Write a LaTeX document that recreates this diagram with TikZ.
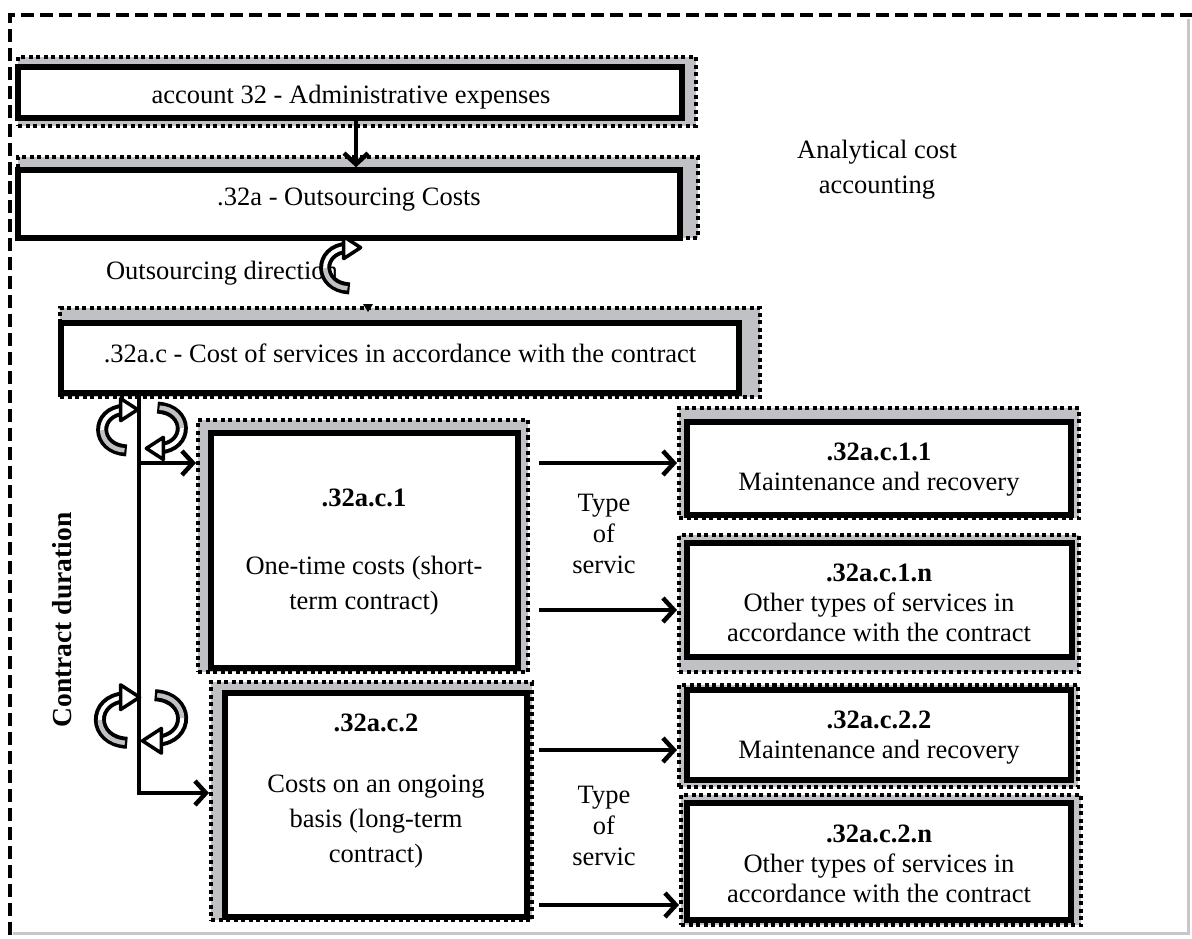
\documentclass[tikz,border=0pt]{standalone}
\usepackage{fontspec}
\setmainfont{Liberation Serif}
\usetikzlibrary{arrows.meta,fit}
\definecolor{shd}{RGB}{192,193,197}
\begin{document}
\begin{tikzpicture}[x=1bp,y=-1bp,
  shbox/.style={draw=black, fill=shd, line width=4bp, dash pattern=on 4bp off 3.5bp, inner sep=0pt},
  mainbox/.style={draw=black, fill=white, line width=5.5bp, inner sep=0pt},
  txt/.style={font=\fontsize{26.5bp}{30bp}\selectfont, align=center, inner sep=0pt},
  txtw/.style={font=\fontsize{26.5bp}{35bp}\selectfont, align=center, inner sep=0pt},
  txtm/.style={font=\fontsize{26.5bp}{31bp}\selectfont, align=center, inner sep=0pt},
  ttl/.style={font=\fontsize{26.5bp}{30bp}\selectfont\bfseries, inner sep=0pt},
  conn/.style={line width=4.5bp},
  arr/.style={line width=4.5bp, -{Straight Barb[length=11bp,width=24bp]}},
  frame/.style={line width=4bp, dash pattern=on 13bp off 6bp},
  rotl/.pic={
    \draw[line width=12bp, line cap=butt] (14,-24) .. controls (-22,-22) and (-22,22) .. (16,24);
    \draw[line width=4bp, white] (14,-24) .. controls (-4,-23) and (-13,-11.5) .. (-12.75,0);
    \draw[line width=4.5bp, shd] (-12.75,0) .. controls (-12.5,11.5) and (-3,23) .. (13.5,23.9);
    \filldraw[fill=white, draw=black, line width=3.5bp, line join=round] (9,-37) -- (29,-24) -- (9,-11) -- cycle;
  }
]
\useasboundingbox (0,0) rectangle (1192,939);
% outer frame
\draw[line width=3bp, black!22] (1188,19) -- (1188,933) -- (13,933);
\draw[frame] (10,935) -- (10,15) -- (1192,15);

% account 32
\node[shbox, fit={(18,57) (696,126)}] (accs) {};
\node[mainbox, fit={(18,67) (682,118)}] (acc) {};
\node[txt] (acct) at (351,97) {account 32 - Administrative expenses};

% .32a
\node[shbox, fit={(18,157) (698,238)}] (outs) {};
\node[mainbox, fit={(18,170) (680,238)}] (out) {};
\node[txt] (outt) at (349,200) {.32a - Outsourcing Costs};
\coordinate (ax) at (356,0);
\draw[arr] (acc.south -| ax) -- (out.north -| ax);

% outsourcing direction
\node[txt] (odir) at (222,273) {Outsourcing direction};
\pic[scale=0.85] at (336,268) {rotl};

% .32a.c
\node[shbox, fit={(60,308) (760,397)}] (cs) {};
\node[mainbox, fit={(61,323) (739,393)}] (cb) {};
\node[txt] (ct) at (400,353) {.32a.c - Cost of services in accordance with the contract};
\fill (363,304) -- (373,304) -- (368,312) -- cycle;

% .32a.c.1
\node[shbox, fit={(198,420) (528,672)}] (c1s) {};
\node[mainbox, fit={(211,433) (518,668)}] (c1b) {};
\node[ttl] (c1ttl) at (364,498) {.32a.c.1};
\node[txtw] (c1t) at (364,585.5) {One-time costs (short-\\term contract)};

% .32a.c.2
\node[shbox, fit={(211,682) (532,920)}] (c2s) {};
\node[mainbox, fit={(225,693) (527,917)}] (c2b) {};
\node[ttl] (c2ttl) at (376,723) {.32a.c.2};
\node[txtw] (c2t) at (376,822) {Costs on an ongoing\\basis (long-term\\contract)};

% right boxes
\node[shbox, fit={(679,408) (1079,518)}] (s11) {};
\node[mainbox, fit={(687,422) (1071,515)}] (b11) {};
\node[txt] (t11) at (879,470) {\textbf{.32a.c.1.1}\\Maintenance and recovery};

\node[shbox, fit={(679,535) (1079,672)}] (s1n) {};
\node[mainbox, fit={(687,543) (1072,657)}] (b1n) {};
\node[txt] (t1n) at (879,603) {\textbf{.32a.c.1.n}\\Other types of services in\\accordance with the contract};

\node[shbox, fit={(679,685) (1078,787)}] (s22) {};
\node[mainbox, fit={(687,690) (1071,780)}] (b22) {};
\node[txt] (t22) at (879,738) {\textbf{.32a.c.2.2}\\Maintenance and recovery};

\node[shbox, fit={(681,795) (1081,925)}] (s2n) {};
\node[mainbox, fit={(687,803) (1071,920)}] (b2n) {};
\node[txt] (t2n) at (879,864) {\textbf{.32a.c.2.n}\\Other types of services in\\accordance with the contract};

% contract duration branch
\coordinate (jx) at (139,0);
\coordinate (j1) at (139,463);
\coordinate (j2) at (139,793);
\draw[arr] (cb.south -| jx) |- (c2s.west |- j2);
\draw[arr] (j1) -- (c1s.west |- j1);
\pic[scale=0.85] at (113,430) {rotl};
\pic[scale=0.85, rotate=180] at (171,428) {rotl};
\pic[scale=0.95] at (112,720) {rotl};
\pic[scale=0.95, rotate=180] at (170,718) {rotl};
\node[ttl, font=\fontsize{27.5bp}{30bp}\selectfont\bfseries, rotate=90] (cd) at (62,620) {Contract duration};

% type-of-service arrows
\coordinate (r1) at (539,463);
\coordinate (r2) at (539,610);
\coordinate (r3) at (539,750);
\coordinate (r4) at (539,905);
\draw[arr] (r1) -- (s11.west |- r1);
\draw[arr] (r2) -- (s1n.west |- r2);
\draw[arr] (r3) -- (s22.west |- r3);
\draw[arr] (r4) -- (s2n.west |- r4);
\node[txtm] (ts1) at (604,534) {Type\\of\\servic};
\node[txtm] (ts2) at (604,826) {Type\\of\\servic};

% side label
\node[txtw] (ana) at (877,170) {Analytical cost\\accounting};
\end{tikzpicture}
\end{document}
